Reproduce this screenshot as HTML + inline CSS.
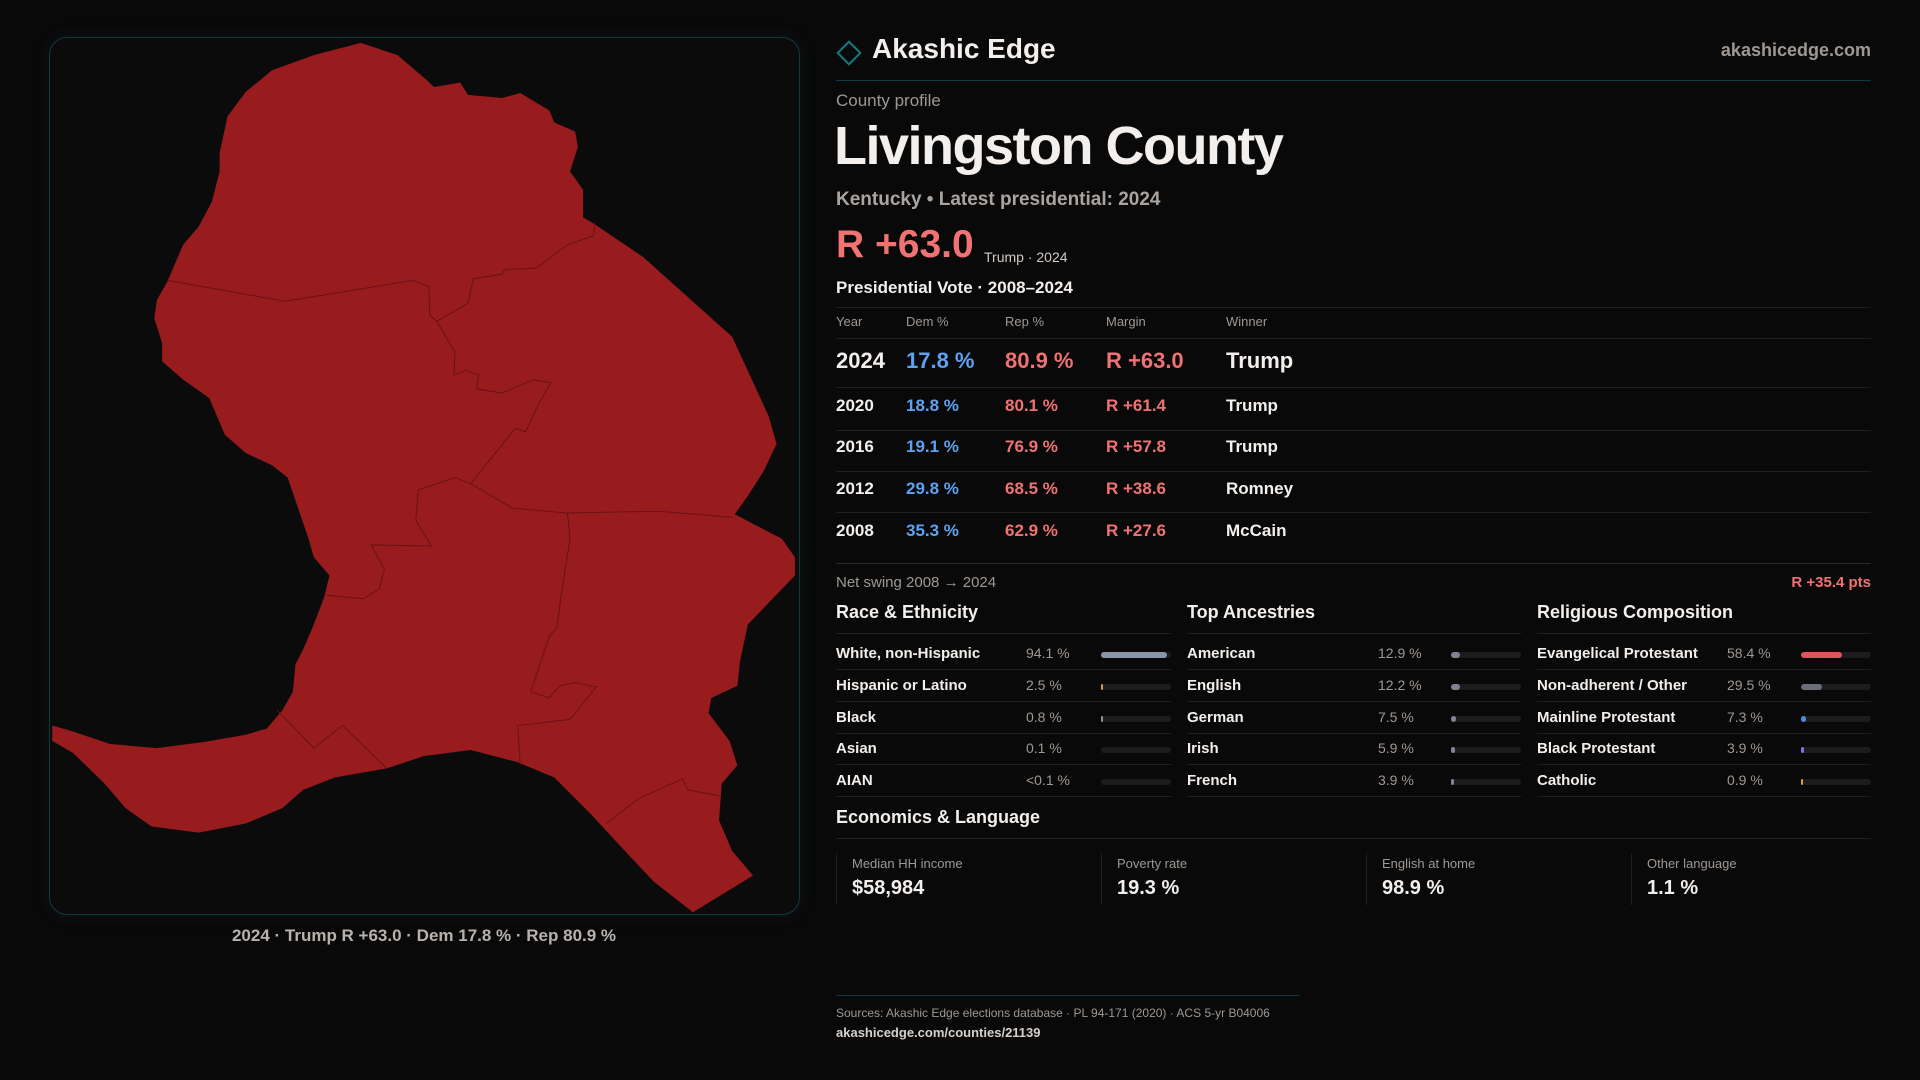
<!DOCTYPE html>
<html><head><meta charset="utf-8">
<style>
*{margin:0;padding:0;box-sizing:border-box}
body{width:1920px;height:1080px;background:#0a0909;font-family:"Liberation Sans",sans-serif;color:#f2efec;position:relative;overflow:hidden}
.a{position:absolute;white-space:nowrap}
.g{color:#9e9893}
.red{color:#f07272}
.blue{color:#5ea2f2}
.hl{position:absolute;height:1px;background:#1f1f21}
.bar{position:absolute;height:6px;border-radius:3px;background:#1c1c1f}
.fill{position:absolute;left:0;top:0;height:6px;border-radius:3px}
</style></head><body>
<div class="a" style="left:49px;top:37px;width:751px;height:878px;border:1px solid #0f3a40;border-radius:18px;background:#0c0b0c;box-shadow:0 0 18px rgba(20,90,100,0.15)"></div>
<svg class="a" style="left:0;top:0" width="820" height="960" viewBox="0 0 1568 1568" preserveAspectRatio="none">
<path fill="#981b1e" d="M690,70 L760,90 L815,130 L830,142 L880,135 L895,155 L960,160 L995,152 L1020,165 L1050,180 L1060,200 L1100,215 L1105,240 L1090,280 L1115,310 L1115,355 L1135,365 L1230,420 L1400,550 L1470,680 L1485,725 L1460,770 L1430,810 L1405,840 L1495,880 L1520,910 L1520,940 L1430,1020 L1415,1080 L1410,1120 L1360,1140 L1355,1165 L1395,1210 L1410,1250 L1380,1280 L1375,1340 L1400,1390 L1440,1430 L1325,1490 L1250,1440 L1195,1390 L1130,1330 L1060,1270 L990,1245 L900,1225 L810,1235 L740,1255 L640,1270 L580,1290 L540,1320 L470,1345 L380,1360 L290,1350 L240,1320 L200,1280 L140,1230 L100,1210 L100,1185 L140,1195 L210,1215 L300,1222 L390,1212 L470,1200 L510,1190 L540,1160 L560,1130 L565,1085 L580,1060 L600,1020 L620,975 L630,940 L600,910 L590,880 L570,830 L550,780 L520,760 L470,740 L430,710 L400,650 L350,620 L310,590 L310,560 L295,520 L300,490 L320,460 L350,400 L380,370 L405,330 L420,280 L420,250 L435,190 L470,150 L520,115 L600,90 Z"/>
<g fill="none" stroke="#6a1214" stroke-width="1">
<polyline vector-effect="non-scaling-stroke" points="320,458 545,492 790,458 820,468 822,515 835,525 895,495 905,455 960,448 965,440 1025,438 1085,400 1135,385 1138,365"/>
<polyline vector-effect="non-scaling-stroke" points="835,525 870,575 868,612 890,605 915,612 912,635 960,642 1020,620 1053,625 1030,660 1005,705 985,700 900,790 870,780 800,800 795,850 825,892 710,890 735,930 725,962 695,978 622,972"/>
<polyline vector-effect="non-scaling-stroke" points="900,790 980,830 1085,838 1260,835 1400,845"/>
<polyline vector-effect="non-scaling-stroke" points="1085,838 1090,880 1075,960 1065,1025 1050,1040 1015,1130 1050,1140 1070,1120 1100,1115 1140,1122 1090,1175 990,1185 995,1250"/>
<polyline vector-effect="non-scaling-stroke" points="530,1160 600,1222 655,1185 740,1255"/>
<polyline vector-effect="non-scaling-stroke" points="1160,1345 1220,1305 1305,1272 1315,1290 1375,1300"/>
</g></svg>
<div class="a" style="left:0;width:848px;text-align:center;top:926px;font-size:17px;font-weight:bold;color:#b8b2ad">2024 · Trump R +63.0 · Dem 17.8 % · Rep 80.9 %</div>

<div class="a" style="left:840px;top:44px;width:18px;height:18px;border:2px solid #127a82;transform:rotate(45deg)"></div>
<div class="a" style="left:872px;top:33px;font-size:28px;font-weight:bold">Akashic Edge</div>
<div class="a g" style="right:49px;top:40px;font-size:18px;font-weight:bold">akashicedge.com</div>
<div class="hl" style="left:836px;top:80px;width:1035px;background:#0f3a40"></div>
<div class="a g" style="left:836px;top:91px;font-size:17px">County profile</div>
<div class="a" style="left:834px;top:115px;font-size:54px;font-weight:bold;letter-spacing:-1.5px">Livingston County</div>
<div class="a" style="left:836px;top:189px;font-size:19px;font-weight:bold;color:#aaa4a0">Kentucky • Latest presidential: 2024</div>
<div class="a red" style="left:836px;top:223px;font-size:39px;font-weight:bold">R +63.0</div>
<div class="a" style="left:984px;top:249px;font-size:14px;color:#cfc9c4">Trump · 2024</div>
<div class="a" style="left:836px;top:278px;font-size:17px;font-weight:bold">Presidential Vote · 2008–2024</div>
<div class="hl" style="left:836px;top:307px;width:1035px"></div>
<div>
<div class="a g" style="left:836px;top:314px;font-size:13px">Year</div>
<div class="a g" style="left:906px;top:314px;font-size:13px">Dem %</div>
<div class="a g" style="left:1005px;top:314px;font-size:13px">Rep %</div>
<div class="a g" style="left:1106px;top:314px;font-size:13px">Margin</div>
<div class="a g" style="left:1226px;top:314px;font-size:13px">Winner</div>
</div>
<div class="hl" style="left:836px;top:338px;width:1035px"></div>
<div id="rows"></div>
<div class="hl" style="left:836px;top:563px;width:1035px;background:#2a2a2c"></div>
<div class="a g" style="left:836px;top:574px;font-size:15px">Net swing 2008 → 2024</div>
<div class="a red" style="right:49px;top:574px;font-size:15px;font-weight:bold">R +35.4 pts</div>
<div id="cols"></div>
<div class="a" style="left:836px;top:807px;font-size:18px;font-weight:bold">Economics &amp; Language</div>
<div class="hl" style="left:836px;top:838px;width:1035px"></div>
<div id="stats"></div>
<div class="hl" style="left:836px;top:995px;width:464px;background:#0f3a40"></div>
<div class="a g" style="left:836px;top:1006px;font-size:12px">Sources: Akashic Edge elections database · PL 94-171 (2020) · ACS 5-yr B04006</div>
<div class="a" style="left:836px;top:1025px;font-size:13px;color:#d6d0cb;font-weight:bold">akashicedge.com/counties/21139</div>
<script>
const years=['2024','2020','2016','2012','2008'];
const dem=['17.8 %','18.8 %','19.1 %','29.8 %','35.3 %'];
const rep=['80.9 %','80.1 %','76.9 %','68.5 %','62.9 %'];
const margins=['R +63.0','R +61.4','R +57.8','R +38.6','R +27.6'];
const winners=['Trump','Trump','Trump','Romney','McCain'];
const rowY=[348,396,437,479,521];
const rowsEl=document.getElementById('rows');
years.forEach((y,i)=>{
  const fs=i===0?22:17;
  const r=document.createElement('div');
  
  
  const cells=[[836,y,''],[906,dem[i],'blue'],[1005,rep[i],'red'],[1106,margins[i],'red'],[1226,winners[i],'']];
  cells.forEach(c=>{const d=document.createElement('div');d.className='a '+c[2];d.style.cssText=`left:${c[0]}px;top:${rowY[i]}px;font-size:${fs}px;font-weight:bold`;d.textContent=c[1];r.appendChild(d);});
  rowsEl.appendChild(r);
  if(i<4){const l=document.createElement('div');l.className='hl';l.style.cssText=`left:836px;top:${[387,430,471,512][i]}px;width:1035px`;rowsEl.appendChild(l);}
});
const sections=['Race & Ethnicity','Top Ancestries','Religious Composition'];
const labels=[['White, non-Hispanic','Hispanic or Latino','Black','Asian','AIAN'],['American','English','German','Irish','French'],['Evangelical Protestant','Non-adherent / Other','Mainline Protestant','Black Protestant','Catholic']];
const valueText=[['94.1 %','2.5 %','0.8 %','0.1 %','<0.1 %'],['12.9 %','12.2 %','7.5 %','5.9 %','3.9 %'],['58.4 %','29.5 %','7.3 %','3.9 %','0.9 %']];
const values=[[94.1,2.5,0.8,0.1,0.05],[12.9,12.2,7.5,5.9,3.9],[58.4,29.5,7.3,3.9,0.9]];
const colors=[['#8a96a8','#d9a030','#8a96a8','#8a96a8','#8a96a8'],['#7d8594','#7d8594','#7d8594','#7d8594','#7d8594'],['#d9575a','#6b6e78','#4a8ee0','#8a6ae0','#d9a030']];
const colX=[836,1187,1537],colW=[335,334,334],valX=[1026,1378,1727];
const cols=document.getElementById('cols');
sections.forEach((s,c)=>{
  const h=document.createElement('div');h.className='a';
  
  
  h.style.cssText=`left:${colX[c]}px;top:602px;font-size:18px;font-weight:bold`;h.textContent=s;cols.appendChild(h);
  const l0=document.createElement('div');l0.className='hl';l0.style.cssText=`left:${colX[c]}px;top:633px;width:${colW[c]}px`;cols.appendChild(l0);
  labels[c].forEach((lab,i)=>{
    const y=653+i*31.8;
    const t=document.createElement('div');t.className='a';
    
    
    t.style.cssText=`left:${colX[c]}px;top:${y-8}px;font-size:15px;font-weight:bold`;t.textContent=lab;cols.appendChild(t);
    const v=document.createElement('div');v.className='a g';
    
    
    v.style.cssText=`left:${valX[c]}px;top:${y-8}px;font-size:14px`;v.textContent=valueText[c][i];cols.appendChild(v);
    const b=document.createElement('div');b.className='bar';
    
    
    const bx=colX[c]+colW[c]-70;b.style.cssText=`left:${bx}px;top:${y-1}px;width:70px`;
    const f=document.createElement('div');f.className='fill';
    f.style.width=Math.max(2,values[c][i]/100*70)+'px';f.style.background=colors[c][i];
    if(values[c][i]<0.5){f.style.background='transparent';}
    b.appendChild(f);cols.appendChild(b);
    const l=document.createElement('div');l.className='hl';l.style.cssText=`left:${colX[c]}px;top:${669+i*31.8}px;width:${colW[c]}px`;cols.appendChild(l);
  });
});
const statLabels=['Median HH income','Poverty rate','English at home','Other language'];
const statValues=['$58,984','19.3 %','98.9 %','1.1 %'];
const statX=[836,1101,1366,1631];
const st=document.getElementById('stats');
statLabels.forEach((s,i)=>{
  const box=document.createElement('div');box.className='a';
  
  
  box.style.cssText=`left:${statX[i]}px;top:853px;height:52px;width:250px;border-left:1px solid #1f1f21;padding-left:15px`;
  box.innerHTML=`<div style="font-size:13px;color:#9e9893;margin-top:3px">${s}</div><div style="font-size:20px;font-weight:bold;margin-top:6px">${statValues[i]}</div>`;
  st.appendChild(box);
});
</script>
</body></html>
